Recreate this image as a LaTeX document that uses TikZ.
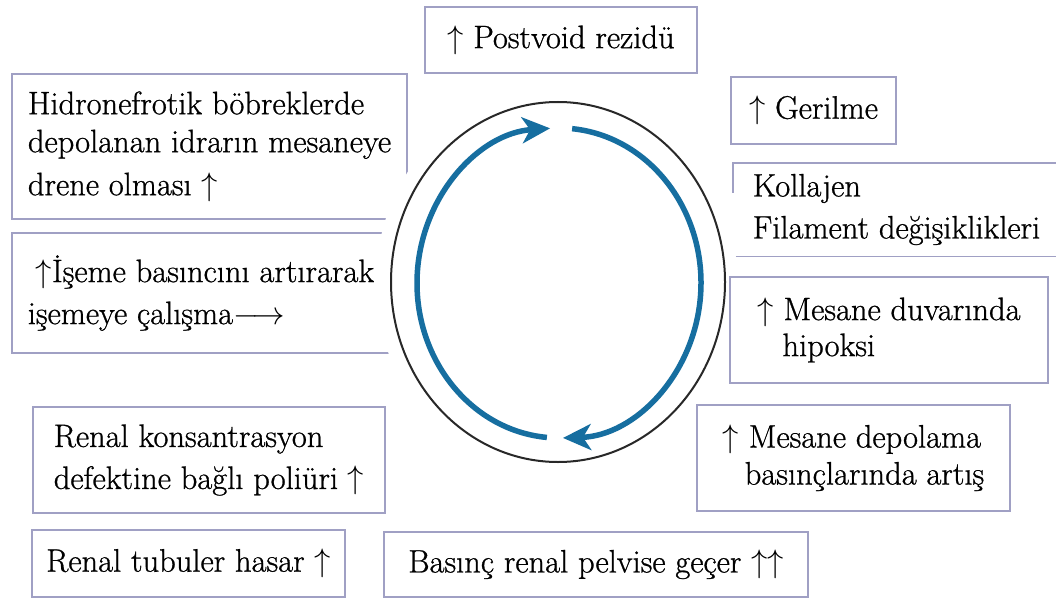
\RequirePackage{fix-cm}
\documentclass[tikz,border=0pt]{standalone}
\usepackage{fontspec}
\setmainfont{lmroman17-regular.otf}[FakeBold=0.8]
\usetikzlibrary{arrows.meta}
\definecolor{boxline}{RGB}{160,160,196}
\definecolor{cycleblue}{RGB}{22,110,160}
\definecolor{ringgray}{RGB}{40,40,40}
\newcommand{\uparr}{$\uparrow$}
\begin{document}
\begin{tikzpicture}[x=1pt,y=-1pt,
  txt/.style={font=\fontsize{32.5}{38}\selectfont, align=left, inner sep=0pt, text=black},
  card/.style={txt, draw=boxline, line width=1.4pt},
  edgeline/.style={draw=boxline, line width=1.4pt},
  flow/.style={draw=cycleblue, line width=5.5pt, -{Stealth[length=28pt,width=26pt,inset=8pt]}}]
\useasboundingbox (0,0) rectangle (1056,599);
\clip (0,0) rectangle (1056,599);

% boxes partly hidden behind the ring
\node[card, minimum width=395pt, minimum height=145pt] (hidro) at (209.5,146.5)
  {Hidronefrotik böbreklerde\\ depolanan idrarın mesaneye\\[5pt] drene olması \uparr};
\node[card, minimum width=378pt, minimum height=120pt] (iseme) at (201,293)
  {\hspace*{8pt}\uparr İşeme basıncını artırarak\\[4pt] işemeye çalışma$\longrightarrow$};

% white halo and ring
\fill[white] (558,282) ellipse [x radius=182, y radius=195];
\draw[ringgray, line width=2pt] (558,282) ellipse [x radius=167, y radius=180];

% cycle arrows
\coordinate (cyc) at (559,283);
\draw[flow] (cyc) ++(94.9:142 and 155) arc[start angle=94.9, end angle=266.4, x radius=142, y radius=155];
\draw[flow] (cyc) ++(-84.7:142 and 155) arc[start angle=-84.7, end angle=88.4, x radius=142, y radius=155];

% other boxes
\node[card, minimum width=272pt, minimum height=66pt] (post) at (561,40) {\uparr{} Postvoid rezidü};
\node[card, minimum width=165pt, minimum height=67pt] (ger) at (813.5,110.5) {\uparr{} Gerilme};
\node[txt, minimum width=327pt, minimum height=93pt] (kol) at (896.5,209.5)
  {Kollajen\\[4pt] Filament değişiklikleri};
\draw[edgeline] ([yshift=-30pt]kol.north west) -- (kol.north west) -- (kol.north east);
\draw[edgeline] ([xshift=3pt]kol.south west) -- (kol.south east);
\node[card, minimum width=318pt, minimum height=106pt] (hip) at (889,330)
  {\uparr{} Mesane duvarında\\[-2pt] \hspace*{25pt}hipoksi};
\node[card, minimum width=313pt, minimum height=106pt] (dep) at (853.5,458)
  {\uparr{} Mesane depolama\\[-1pt] \hspace*{22pt}basınçlarında artış};
\node[card, minimum width=352pt, minimum height=106pt] (kons) at (209,460)
  {Renal konsantrasyon\\[4pt] defektine bağlı poliüri \uparr};
\node[card, minimum width=313pt, minimum height=67pt] (tub) at (188.5,563.5) {Renal tubuler hasar \uparr};
\node[card, minimum width=424pt, minimum height=65pt] (bas) at (596,564.5) {Basınç renal pelvise geçer $\uparrow\uparrow$};
\end{tikzpicture}
\end{document}
